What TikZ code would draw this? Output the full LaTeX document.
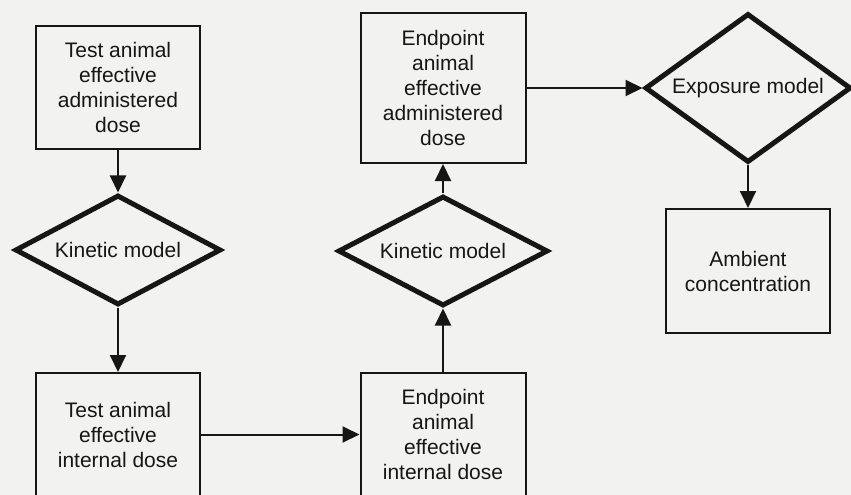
\documentclass[tikz,border=0pt]{standalone}
\usepackage{fontspec}
\setmainfont{Liberation Sans}
\usepackage{tikz}
\usetikzlibrary{arrows.meta,shapes.geometric}
\definecolor{paper}{RGB}{242,242,240}
\definecolor{ink}{RGB}{22,22,22}
\tikzstyle{dose}=[rectangle,draw=ink,text=ink,line width=2pt,minimum width=164pt,minimum height=123pt,align=center,font=\fontsize{21}{25}\selectfont]
\tikzstyle{model}=[diamond,draw=ink,text=ink,line width=5pt,aspect=2,inner sep=0pt,minimum width=206pt,minimum height=110pt,font=\fontsize{21}{25}\selectfont]
\tikzstyle{flow}=[->,>={Triangle[length=17pt,width=16pt]},draw=ink,line width=2pt]

\begin{document}
\begin{tikzpicture}[x=1pt,y=-1pt]
        \fill [paper] (0,0) rectangle (851,495);
        \useasboundingbox (0,0) rectangle (851,495);

        \node at (118,87.5) [dose]  (taadmin) {Test animal\\effective\\administered\\dose};
        \node at (118,250)  [model] (kin1)    {Kinetic model};
        \node at (118,434.5) [dose] (taint)   {Test animal\\effective\\internal dose};
        \node at (443,434.5) [dose,minimum width=165pt] (epint) {Endpoint\\animal\\effective\\internal dose};
        \node at (443,251)  [model,minimum width=210pt] (kin2) {Kinetic model};
        \node at (443,88)   [dose,minimum width=165pt,minimum height=150pt] (epadmin) {Endpoint\\animal\\effective\\administered\\dose};
        \node at (748,88)   [model,minimum height=149pt] (expo) {Exposure model};
        \node at (748,271)  [dose,minimum height=124pt] (ambient) {Ambient\\concentration};

        \draw [flow] (taadmin) -- (kin1);
        \draw [flow] (kin1) -- (taint);
        \draw [flow] (taint) -- (epint);
        \draw [flow] (epint) -- (kin2);
        \draw [flow] (kin2) -- (epadmin);
        \draw [flow] (epadmin) -- (expo);
        \draw [flow] (expo) -- (ambient);
      \end{tikzpicture}
\end{document}
